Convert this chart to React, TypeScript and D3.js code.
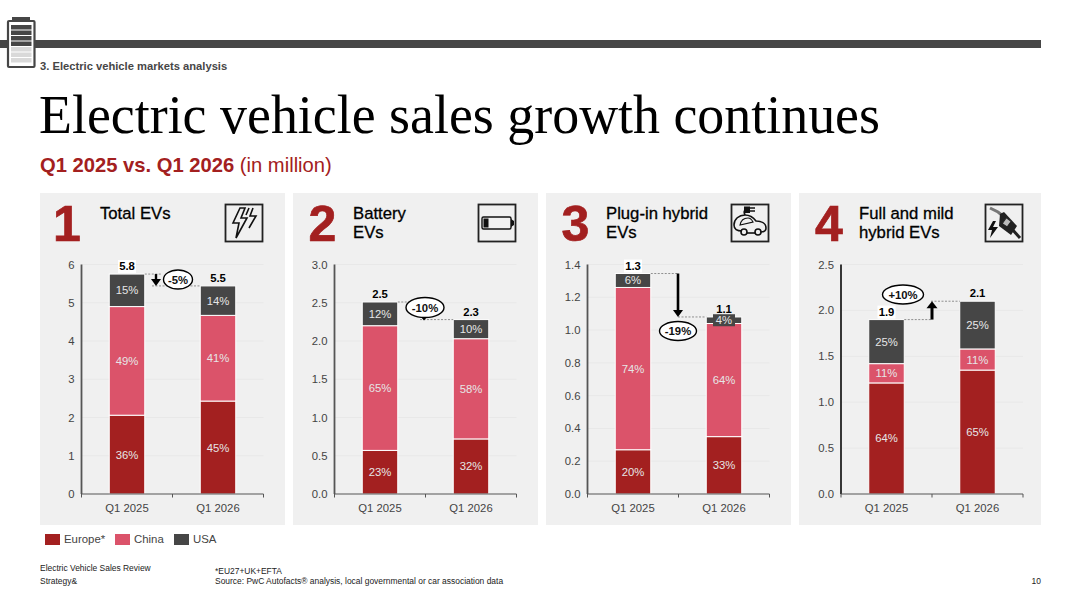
import React from "react";
import * as d3 from "d3";

const quarters = ["Q1 2025", "Q1 2026"];
const regions = ["Europe*", "China", "USA"];
const regionColors = ["#a32020", "#db536a", "#464646"];

const totalEurope = [2.06, 2.43];
const totalChina = [2.84, 2.24];
const totalUsa = [0.85, 0.77];
const totalShares = [["36%", "49%", "15%"], ["45%", "41%", "14%"]];
const totalLabels = ["5.8", "5.5"];
const totalTicks = [0, 1, 2, 3, 4, 5, 6];

const batteryEurope = [0.57, 0.72];
const batteryChina = [1.63, 1.31];
const batteryUsa = [0.31, 0.25];
const batteryShares = [["23%", "65%", "12%"], ["32%", "58%", "10%"]];
const batteryLabels = ["2.5", "2.3"];
const batteryTicks = [0, 0.5, 1, 1.5, 2, 2.5, 3];

const plugEurope = [0.27, 0.35];
const plugChina = [0.99, 0.69];
const plugUsa = [0.085, 0.04];
const plugShares = [["20%", "74%", "6%"], ["33%", "64%", "4%"]];
const plugLabels = ["1.3", "1.1"];
const plugTicks = [0, 0.2, 0.4, 0.6, 0.8, 1, 1.2, 1.4];

const hybridEurope = [1.21, 1.35];
const hybridChina = [0.21, 0.23];
const hybridUsa = [0.48, 0.52];
const hybridShares = [["64%", "11%", "25%"], ["65%", "11%", "25%"]];
const hybridLabels = ["1.9", "2.1"];
const hybridTicks = [0, 0.5, 1, 1.5, 2, 2.5];

const SANS = "'Liberation Sans', Arial, sans-serif";
const TOP = 264.5;
const BASE = 494;

type PanelDef = {
  n: string; title: string[]; x0: number; x1: number; axisX: number; numX: number; titleX: number; iconX: number;
  europe: number[]; china: number[]; usa: number[]; shares: string[][]; labels: string[]; ticks: number[]; max: number; dec: number;
  change: string;
};

const panels: PanelDef[] = [
  { n: "1", title: ["Total EVs"], x0: 40, x1: 285, axisX: 81.5, numX: 67, titleX: 100, iconX: 225, europe: totalEurope, china: totalChina, usa: totalUsa, shares: totalShares, labels: totalLabels, ticks: totalTicks, max: 6, dec: 0, change: "-5%" },
  { n: "2", title: ["Battery", "EVs"], x0: 293, x1: 538, axisX: 334.5, numX: 322.5, titleX: 353, iconX: 478, europe: batteryEurope, china: batteryChina, usa: batteryUsa, shares: batteryShares, labels: batteryLabels, ticks: batteryTicks, max: 3, dec: 1, change: "-10%" },
  { n: "3", title: ["Plug-in hybrid", "EVs"], x0: 546, x1: 791, axisX: 587.5, numX: 575.5, titleX: 606, iconX: 731, europe: plugEurope, china: plugChina, usa: plugUsa, shares: plugShares, labels: plugLabels, ticks: plugTicks, max: 1.4, dec: 1, change: "-19%" },
  { n: "4", title: ["Full and mild", "hybrid EVs"], x0: 799, x1: 1041, axisX: 841, numX: 829, titleX: 859, iconX: 985, europe: hybridEurope, china: hybridChina, usa: hybridUsa, shares: hybridShares, labels: hybridLabels, ticks: hybridTicks, max: 2.5, dec: 1, change: "+10%" },
];

function Pill({ cx, cy, rx, ry, text }: { cx: number; cy: number; rx: number; ry: number; text: string }) {
  return (
    <g>
      <ellipse cx={cx} cy={cy} rx={rx} ry={ry} fill="#fff" stroke="#000" strokeWidth={1.4} />
      <text x={cx} y={cy + 4} textAnchor="middle" fontSize={11.3} fontWeight={700} fontFamily={SANS} fill="#111">{text}</text>
    </g>
  );
}

function Arrow({ x, y1, y2, w = 2.4, h = 5 }: { x: number; y1: number; y2: number; w?: number; h?: number }) {
  const dir = y2 > y1 ? 1 : -1;
  return (
    <g>
      <line x1={x} x2={x} y1={y1} y2={y2 - dir * 6} stroke="#000" strokeWidth={w} />
      <path d={`M${x - h},${y2 - dir * 7}L${x + h},${y2 - dir * 7}L${x},${y2}Z`} fill="#000" />
    </g>
  );
}

function Icon({ i, x }: { i: number; x: number }) {
  const s = { fill: "none", stroke: "#111", strokeWidth: 1.6 } as const;
  return (
    <g transform={`translate(${x},204)`}>
      <rect x={0.5} y={0.5} width={37} height={37} fill="none" stroke="#222" strokeWidth={1.8} />
      {i === 0 && (
        <g {...s} strokeLinejoin="miter">
          <path d="M15,4L8,19L14,19L11,34L22,14L16,14L20,4Z" />
          <path d="M24,4L21,11M28,4L25,12L31,12L24,24" />
        </g>
      )}
      {i === 1 && (
        <g>
          <rect x={4} y={13} width={29} height={12} rx={1.5} fill="none" stroke="#111" strokeWidth={1.4} />
          <rect x={5.5} y={14.5} width={5} height={9} fill="#111" />
          <path d="M33,15L36,17L36,21L33,23Z" fill="#111" />
        </g>
      )}
      {i === 2 && (
        <g {...s}>
          <path d="M11,27C6,27 3,25 3,21C3,15 8,11 14,11C19,11 22,13 25,17C30,17 35,19 35,24C35,27 33,28 30,28" />
          <path d="M16,29L24,29" />
          <circle cx={13} cy={28} r={3} />
          <circle cx={27} cy={28} r={3} />
          <path d="M9,21C10,16 13,14 17,14C20,14 21,16 22,18L9,21Z" strokeWidth={1.1} />
          <path d="M14,11C13,9 13,7 14,6" />
          <rect x={13} y={2.5} width={6} height={6.5} fill="#111" stroke="none" />
          <path d="M19,4L24,4M19,7L24,7" />
        </g>
      )}
      {i === 3 && (
        <g>
          <path d="M5,4L13,8L18,12" fill="none" stroke="#777" strokeWidth={3} />
          <path d="M26,24L35,34" fill="none" stroke="#222" strokeWidth={3} />
          <path d="M15,10L19,8L32,22L26,31L14,22Z" fill="#222" />
          <rect x={19} y={15} width={6} height={7} fill="#bbb" stroke="#222" transform="rotate(35 22 18)" />
          <path d="M8,17L3,26L7,26L5,34L13,23L8,23L11,17Z" fill="#111" />
        </g>
      )}
    </g>
  );
}

function Panel({ p, i }: { p: PanelDef; i: number }) {
  const y = d3.scaleLinear().domain([0, p.max]).range([BASE, TOP]);
  const x = d3.scaleBand<string>().domain(quarters).range([p.axisX, p.axisX + 182]);
  const stack = d3.stack<number>().keys(["0", "1", "2"]).value((idx, key) => [p.europe, p.china, p.usa][+key][idx]);
  const layers = stack([0, 1]);
  const barW = 35.5;
  const cx = (q: number) => x(quarters[q])! + x.bandwidth() / 2;
  const topOf = (q: number) => y(p.europe[q] + p.china[q] + p.usa[q]);
  const t0 = topOf(0), t1 = topOf(1);
  const c0 = cx(0), c1 = cx(1);
  const dash = { stroke: "#666", strokeWidth: 0.7, strokeDasharray: "2 1.5" };
  return (
    <g fontFamily={SANS}>
      <rect x={p.x0} y={193} width={p.x1 - p.x0} height={332} fill="#f0f0f0" />
      <text x={p.numX} y={241} textAnchor="middle" fontSize={50} fontWeight={700} fill="#a32020" stroke="#a32020" strokeWidth={0.7}>{p.n}</text>
      {p.title.map((t, k) => (
        <text key={t} x={p.titleX} y={219 + k * 19} fontSize={16.7} fill="#000" stroke="#000" strokeWidth={0.3}>{t}</text>
      ))}
      <Icon i={i} x={p.iconX} />
      {p.ticks.map((t) => (
        <g key={t}>
          {t > 0 && <line x1={p.axisX} x2={p.axisX + 182} y1={y(t)} y2={y(t)} stroke="#e8e8e8" strokeWidth={1} />}
          <text x={p.axisX - 7} y={y(t) + 4} textAnchor="end" fontSize={11.3} fill="#444">{t.toFixed(p.dec)}</text>
        </g>
      ))}
      {layers.map((layer, li) =>
        layer.map((d, q) => {
          const yTop = y(d[1]), yBot = y(d[0]);
          const small = yBot - yTop < 12;
          return (
            <g key={q}>
              <rect x={cx(q) - barW / 2} y={yTop} width={barW} height={yBot - yTop} fill={regionColors[li]} stroke="#fff" strokeWidth={1} />
              {small && <rect x={cx(q) - 11} y={(yTop + yBot) / 2 - 6} width={22} height={12} fill={regionColors[li]} />}
              <text x={cx(q)} y={(yTop + yBot) / 2 + 4} textAnchor="middle" fontSize={11.3} fill="#e6e6e6">{p.shares[q][li]}</text>
            </g>
          );
        })
      )}
      <line x1={p.axisX} x2={p.axisX} y1={TOP} y2={BASE} stroke={i === 3 ? "#222" : "#555"} strokeWidth={1.8} />
      <line x1={p.axisX} x2={p.axisX + 182} y1={BASE} y2={BASE} stroke="#555" strokeWidth={1.2} />
      {[0, 91, 182].map((dx) => (
        <line key={dx} x1={p.axisX + dx} x2={p.axisX + dx} y1={BASE} y2={BASE + 3.5} stroke="#555" strokeWidth={1} />
      ))}
      {quarters.map((q, k) => (
        <text key={q} x={cx(k)} y={512} textAnchor="middle" fontSize={11.3} fill="#444">{q}</text>
      ))}
      {[0, 1].map((q) => {
        const ty = topOf(q);
        return (
          <g key={q}>
            <rect x={cx(q) - 9} y={ty - 14} width={18} height={13} fill={q === 0 && i !== 1 ? "#fff" : "none"} />
            <text x={cx(q)} y={ty - 4} textAnchor="middle" fontSize={11.3} fontWeight={700} fill="#000">{p.labels[q]}</text>
          </g>
        );
      })}
      {i === 0 && (
        <g>
          <line x1={c0 + barW / 2} x2={c0 + 35} y1={t0} y2={t0} {...dash} />
          <line x1={c0 + 25} x2={c1 - barW / 2} y1={t1} y2={t1} {...dash} />
          <Arrow x={156} y1={t0} y2={t1} />
          <Pill cx={178} cy={279.5} rx={14.5} ry={9.5} text={p.change} />
        </g>
      )}
      {i === 1 && (
        <g>
          <line x1={c0 + barW / 2} x2={c0 + 40} y1={t0} y2={t0} {...dash} />
          <line x1={c0 + 40} x2={c1 - barW / 2} y1={t1} y2={t1} {...dash} />
          <Pill cx={425} cy={307.5} rx={19} ry={10} text={p.change} />
          <path d="M421,317L427,317L424,320.5Z" fill="#000" />
        </g>
      )}
      {i === 2 && (
        <g>
          <line x1={c0 + barW / 2} x2={678} y1={t0} y2={t0} {...dash} />
          <line x1={678} x2={c1 - barW / 2} y1={t1} y2={t1} {...dash} />
          <Arrow x={678} y1={t0} y2={t1} w={2.6} />
          <Pill cx={678} cy={331} rx={18.5} ry={9.5} text={p.change} />
        </g>
      )}
      {i === 3 && (
        <g>
          <line x1={c0 + barW / 2} x2={931} y1={t0} y2={t0} {...dash} />
          <line x1={931} x2={c1 - barW / 2} y1={t1} y2={t1} {...dash} />
          <Arrow x={932} y1={t0} y2={t1} w={3} h={5.5} />
          <Pill cx={903} cy={294.5} rx={20.5} ry={9.5} text={p.change} />
        </g>
      )}
    </g>
  );
}

export default function App() {
  const legendX = [45, 115, 174];
  const legendTextX = [64, 134, 193];
  return (
    <svg width={1080} height={607} viewBox="0 0 1080 607" style={{ position: "absolute", left: 0, top: 0, background: "#fff" }}>
      <rect x={0} y={40} width={1041} height={8} fill="#464646" />
      <g>
        <rect x={12} y={17} width={18} height={4} fill="#464646" />
        <rect x={8} y={21} width={26.5} height={46} rx={1} fill="#fff" stroke="#464646" strokeWidth={2.2} />
        {[25, 30.5, 36, 41.5].map((yy) => <rect key={yy} x={11} y={yy} width={20.5} height={4.5} fill="#464646" />)}
        {[47, 52.5, 58].map((yy) => <rect key={yy} x={11} y={yy} width={20.5} height={4.5} fill="#d9d9d9" />)}
      </g>
      <text x={40} y={70} fontFamily={SANS} fontSize={11.2} fontWeight={700} fill="#464646">3. Electric vehicle markets analysis</text>
      <text x={39} y={133} fontFamily="'Liberation Serif', serif" fontSize={53.9} fill="#000">Electric vehicle sales growth continues</text>
      <text x={40} y={172} fontFamily={SANS} fontSize={20.2} fill="#a32020">
        <tspan fontWeight={700}>Q1 2025 vs. Q1 2026</tspan> (in million)
      </text>
      {panels.map((p, i) => <Panel key={p.n} p={p} i={i} />)}
      {regions.map((r, i) => (
        <g key={r}>
          <rect x={legendX[i]} y={534} width={15} height={11} fill={regionColors[i]} />
          <text x={legendTextX[i]} y={543} fontFamily={SANS} fontSize={11.4} fill="#444">{r}</text>
        </g>
      ))}
      <g fontFamily={SANS} fontSize={8.45} fill="#222">
        <text x={40} y={571}>Electric Vehicle Sales Review</text>
        <text x={40} y={584}>Strategy&amp;</text>
        <text x={215} y={574}>*EU27+UK+EFTA</text>
        <text x={215} y={584}>Source: PwC Autofacts® analysis, local governmental or car association data</text>
        <text x={1041} y={584} textAnchor="end">10</text>
      </g>
    </svg>
  );
}
